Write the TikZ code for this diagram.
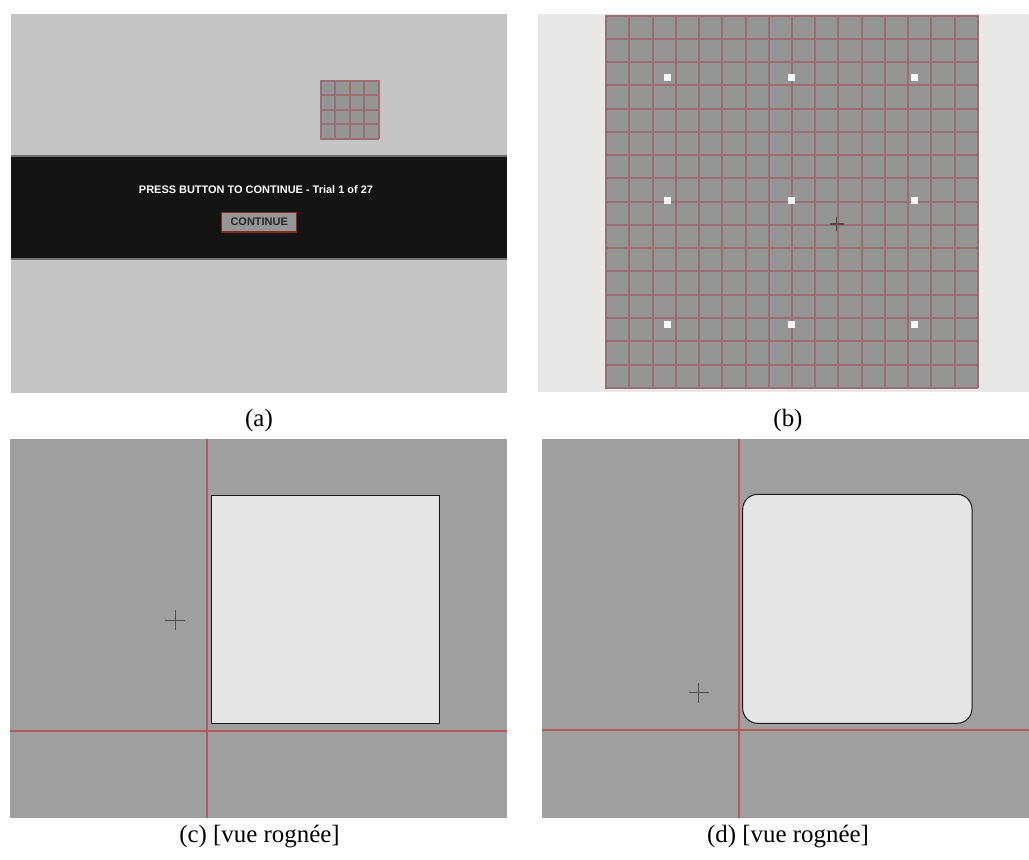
\documentclass[tikz,border=0pt]{standalone}
\usepackage{fontspec}
\setmainfont{Liberation Serif}
\newfontfamily\uisans{Liberation Sans}
\definecolor{abg}{RGB}{196,196,196}
\definecolor{band}{RGB}{20,20,20}
\definecolor{bandedge}{RGB}{110,110,110}
\definecolor{gridfill}{RGB}{148,150,149}
\definecolor{gridred}{RGB}{158,108,116}
\definecolor{bbg}{RGB}{232,232,232}
\definecolor{cbg}{RGB}{159,159,159}
\definecolor{redline}{RGB}{178,88,90}
\definecolor{sqfill}{RGB}{229,229,229}
\definecolor{cross}{RGB}{80,80,80}
\definecolor{btnfill}{RGB}{150,150,150}
\definecolor{btnedge}{RGB}{130,40,40}
\tikzset{
  crossline/.style={draw=cross, line width=0.9bp},
  caption/.style={font=\fontsize{25}{30}\selectfont, inner sep=0pt, anchor=center},
  uitext/.style={font=\uisans\bfseries\fontsize{11}{13}\selectfont, inner sep=0pt},
  dotsq/.style={fill=white!95!gray, draw=none, minimum size=7.3bp, inner sep=0pt},
}
% vertical / horizontal hairline as a filled strip
\newcommand\vstrip[4]{\fill[#1] ({round(#2)-0.1},#3) rectangle ({round(#2)+1.5},#4);}
\newcommand\hstrip[4]{\fill[#1] (#3,{round(#2)-0.1}) rectangle (#4,{round(#2)+1.5});}
\begin{document}
\begin{tikzpicture}[x=1bp,y=-1bp]
\fill[white] (0,0) rectangle (1029,860);
\useasboundingbox (0,0) rectangle (1029,860);

% ---------- panel (a)
\fill[abg] (11,14) rectangle (507,393);
\fill[gridfill] (320,80) rectangle (378.3,138.3);
\foreach \i in {0,...,4}{
  \vstrip{gridred}{320+\i*14.575-0.5}{80}{139}
  \hstrip{gridred}{80+\i*14.575-0.5}{320}{379}
}
\fill[band] (11,156) rectangle (507,259);
\fill[bandedge] (11,155) rectangle (507,156.5);
\fill[bandedge] (11,258) rectangle (507,259.5);
\node[uitext, text=white] (msg) at (256,190) {PRESS BUTTON TO CONTINUE - Trial 1 of 27};
\node[uitext, text=black!85, fill=btnfill, draw=btnedge, line width=1.2bp, minimum width=75bp, minimum height=19.5bp] (btn) at (259.2,222.2) {CONTINUE};

% ---------- panel (b)
\fill[bbg] (538,14) rectangle (1029,392);
\fill[gridfill] (605.7,15) rectangle (977.3,387.3);
\foreach \i in {0,...,16}{
  \vstrip{gridred}{605.2+\i*23.225}{15}{388}
  \hstrip{gridred}{14.5+\i*23.27}{605}{978}
}
\foreach \x/\xn in {667.3/1,791.3/2,914.7/3}{
  \foreach \y/\yn in {77.7/1,200.7/2,324.3/3}{
    \node[dotsq] (dot\xn\yn) at (\x,\y) {};
  }
}
\coordinate (bc) at (836.7,224);
\draw[draw=black!70, line width=1.4bp] ([xshift=-7bp]bc) -- ([xshift=7bp]bc);
\draw[draw=black!70, line width=1.4bp] ([yshift=-7bp]bc) -- ([yshift=7bp]bc);

% ---------- panel (c)
\fill[cbg] (10,439) rectangle (507,818);
\vstrip{redline}{206}{439}{818}
\hstrip{redline}{730}{10}{507}
\draw[fill=sqfill, draw=black!90, line width=1bp] (211,495) rectangle (439.7,723.7);
\coordinate (cc) at (175.3,620);
\draw[crossline] ([xshift=-10bp]cc) -- ([xshift=10bp]cc);
\draw[crossline] ([yshift=-10bp]cc) -- ([yshift=10bp]cc);

% ---------- panel (d)
\fill[cbg] (542,439) rectangle (1029,818);
\vstrip{redline}{738}{439}{818}
\hstrip{redline}{729}{542}{1029}
\draw[fill=sqfill, draw=black!90, line width=1bp, rounded corners=15bp] (742.7,494.3) rectangle (972,723.3);
\coordinate (dc) at (698.7,692.7);
\draw[crossline] ([xshift=-10bp]dc) -- ([xshift=10bp]dc);
\draw[crossline] ([yshift=-10bp]dc) -- ([yshift=10bp]dc);

% ---------- captions
\node[caption] (capa) at (259,421) {(a)};
\node[caption] (capb) at (788,421) {(b)};
\node[caption] (capc) at (259.5,837) {(c) [vue rognée]};
\node[caption] (capd) at (788,837) {(d) [vue rognée]};
\end{tikzpicture}
\end{document}
